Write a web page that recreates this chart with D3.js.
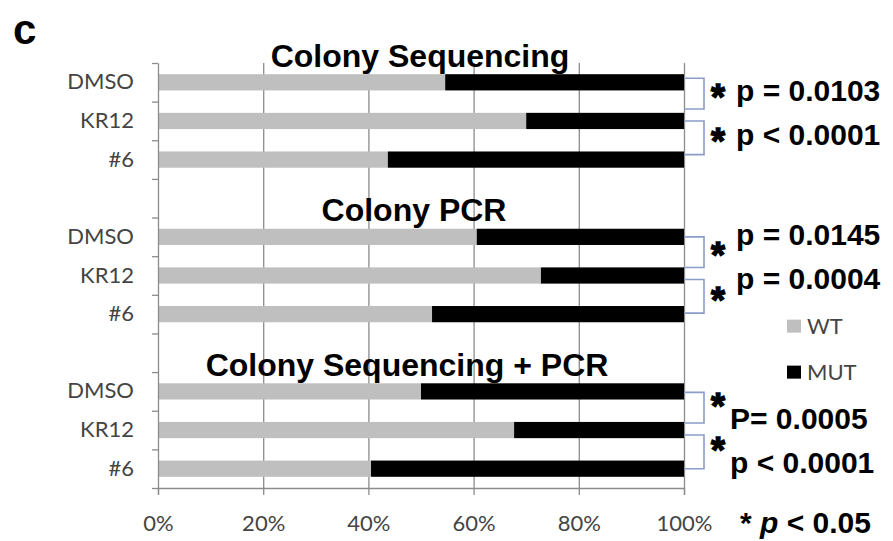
<!DOCTYPE html>
<html>
<head>
<meta charset="utf-8">
<script src="https://cdn.jsdelivr.net/npm/d3@7"></script>
<style>
  body { margin: 0; background: #fff; }
  svg { display: block; }
  .axis text { font-family: Lato, 'Open Sans', sans-serif; font-size: 22px; fill: #444; }
  .bold { font-family: 'Liberation Sans', Arial, sans-serif; font-weight: bold; fill: #000; }
</style>
</head>
<body>
<svg id="chart" width="893" height="541"></svg>
<script>
// values (fraction of WT colonies)
const groups = ['Colony Sequencing', 'Colony PCR', 'Colony Sequencing + PCR'];
const treatments = ['DMSO', 'KR12', '#6'];
const wtSeq = [0.546, 0.700, 0.437];
const wtPcr = [0.606, 0.728, 0.521];
const wtSeqPcr = [0.500, 0.677, 0.405];
const pSeq = ['p = 0.0103', 'p < 0.0001'];
const pPcr = ['p = 0.0145', 'p = 0.0004'];
const pSeqPcr = ['P= 0.0005', 'p < 0.0001'];
const series = ['WT', 'MUT'];
const xTicks = [0, 0.2, 0.4, 0.6, 0.8, 1];
const footnote = ' < 0.05';

const wtValues = [wtSeq, wtPcr, wtSeqPcr];
const pValues = [pSeq, pPcr, pSeqPcr];

const margin = {top: 63, right: 209, bottom: 53, left: 158},
      width = 893 - margin.left - margin.right,
      height = 541 - margin.top - margin.bottom;

// rows of the category axis, with an empty slot between groups
var rows = [];
groups.forEach((g, gi) => {
  treatments.forEach((t, ti) => {
    rows.push({key: gi + '|' + t, label: t, group: gi, WT: wtValues[gi][ti], MUT: 1 - wtValues[gi][ti]});
  });
  if (gi < groups.length - 1) rows.push({key: gi + '|gap', label: '', group: gi, WT: 0, MUT: 0});
});

const svg = d3.select('#chart');

const x = d3.scaleLinear().domain([0, 1]).range([margin.left, margin.left + width]);
const y = d3.scaleBand().domain(rows.map(r => r.key)).range([margin.top, margin.top + height]);
const yIdx = d3.scaleLinear().domain([0, rows.length]).range([margin.top, margin.top + height]);
const color = d3.scaleOrdinal().domain(series).range(['#bfbfbf', '#000000']);

const cy = k => y(k) + y.bandwidth() / 2;
const barH = y.bandwidth() * 0.42;

// gridlines
svg.append('g')
  .attr('transform', 'translate(0,' + margin.top + ')')
  .call(d3.axisBottom(x).tickValues(xTicks.slice(1)).tickSize(height).tickFormat(''))
  .call(g => g.select('.domain').remove())
  .selectAll('line').attr('stroke', '#8c8c8c').attr('stroke-width', 1.3);

// bars
const stacked = d3.stack().keys(series)(rows.filter(r => r.label !== ''));
svg.append('g').selectAll('g')
  .data(stacked)
  .join('g')
  .attr('fill', d => color(d.key))
  .selectAll('rect')
  .data(d => d)
  .join('rect')
  .attr('x', d => x(d[0]))
  .attr('width', d => x(d[1]) - x(d[0]))
  .attr('y', d => cy(d.data.key) - barH / 2)
  .attr('height', barH);

// x axis
svg.append('g')
  .attr('class', 'axis')
  .attr('transform', 'translate(0,' + (margin.top + height) + ')')
  .call(d3.axisBottom(x).tickValues(xTicks).tickSize(7).tickPadding(20).tickFormat(d3.format('.0%')))
  .call(g => g.selectAll('line, .domain').attr('stroke', '#8c8c8c').attr('stroke-width', 1.3));

// y axis line and ticks between categories
svg.append('g')
  .attr('transform', 'translate(' + margin.left + ',0)')
  .call(d3.axisLeft(yIdx).tickValues(d3.range(rows.length + 1)).tickSize(6).tickSizeOuter(0).tickFormat(''))
  .call(g => g.selectAll('line, .domain').attr('stroke', '#8c8c8c').attr('stroke-width', 1.3));

// y labels
svg.append('g')
  .attr('class', 'axis')
  .attr('transform', 'translate(' + margin.left + ',0)')
  .call(d3.axisLeft(y).tickSize(0).tickPadding(24).tickFormat(k => rows.find(r => r.key === k).label))
  .call(g => g.select('.domain').remove());

// group titles
const titleDx = [-1, -7, -14];
svg.append('g').selectAll('text')
  .data(groups)
  .join('text')
  .attr('class', 'bold')
  .attr('font-size', 32)
  .attr('text-anchor', 'middle')
  .attr('x', (d, i) => x(0.5) + titleDx[i])
  .attr('y', (d, i) => y(i + '|' + treatments[0]) + 3.5)
  .text(d => d);

// significance brackets, stars and p values
const bracketShift = [-4, 0, 1],
      textDx = [52, 52, 46],
      textDy = [7, -7, 21],
      starDy = [0, 0, -5],
      starSize = 36;

groups.forEach((g, gi) => {
  [0, 1].forEach(i => {
    var top = cy(gi + '|' + treatments[i]) + (i === 0 ? 0 : 4) + bracketShift[gi];
    var bot = cy(gi + '|' + treatments[i + 1]) - (i === 0 ? 8 : 1) + bracketShift[gi];
    var mid = (top + bot) / 2;

    svg.append('path')
      .attr('d', 'M' + x(1) + ',' + top + 'H' + (x(1) + 20) + 'V' + bot + 'H' + x(1))
      .attr('fill', 'none')
      .attr('stroke', '#8c9cc8')
      .attr('stroke-width', 1.6);

    svg.append('text')
      .attr('class', 'bold')
      .attr('font-size', starSize)
      .attr('text-anchor', 'middle')
      .attr('stroke', '#000')
      .attr('stroke-width', 1.4)
      .attr('x', x(1) + 34)
      .attr('y', mid + starDy[gi] + starSize * 0.45)
      .text('*');

    svg.append('text')
      .attr('class', 'bold')
      .attr('font-size', 30)
      .attr('x', x(1) + textDx[gi])
      .attr('y', mid + textDy[gi])
      .text(pValues[gi][i]);
  });
});

// legend
const legendY = cy('1|#6') + 12;
const legend = svg.append('g').selectAll('g')
  .data(series)
  .join('g')
  .attr('transform', (d, i) => 'translate(' + (x(1) + 103) + ',' + (legendY + i * 46) + ')');
legend.append('rect')
  .attr('x', 0).attr('y', -6.5)
  .attr('width', 14).attr('height', 13)
  .attr('fill', d => color(d));
legend.append('text')
  .attr('class', 'axis')
  .attr('x', 20)
  .attr('dy', '0.35em')
  .style('font-family', 'Lato, sans-serif')
  .style('font-size', '22px')
  .style('fill', '#444')
  .text(d => d);

// footnote
const foot = svg.append('text')
  .attr('class', 'bold')
  .attr('font-size', 30)
  .attr('x', x(1) + 56)
  .attr('y', 533);
foot.append('tspan').text('* ');
foot.append('tspan').attr('font-style', 'italic').text('p');
foot.append('tspan').text(footnote);

// panel letter
svg.append('text')
  .attr('class', 'bold')
  .attr('font-size', 42)
  .attr('x', 13)
  .attr('y', 44)
  .text('c');
</script>
</body>
</html>
